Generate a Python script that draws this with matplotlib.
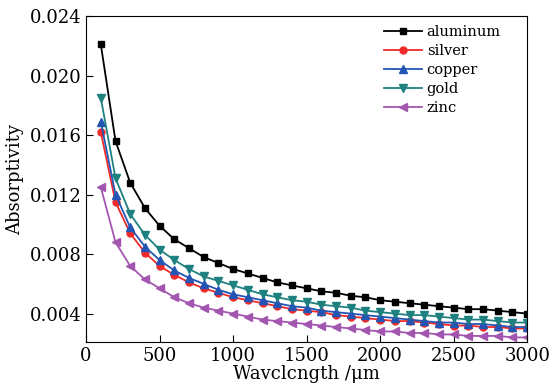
import numpy as np
import matplotlib.pyplot as plt

# Wavelength grid (um)
wavelength = np.arange(100, 3001, 100)

aluminum = [0.0221, 0.0156, 0.0128, 0.0111, 0.0099, 0.0090, 0.0084, 0.0078, 0.0074, 0.0070,
            0.0067, 0.0064, 0.0061, 0.0059, 0.0057, 0.0055, 0.0054, 0.0052, 0.0051, 0.0049,
            0.0048, 0.0047, 0.0046, 0.0045, 0.0044, 0.0043, 0.0043, 0.0042, 0.0041, 0.0040]
silver = [0.0162, 0.0115, 0.0094, 0.0081, 0.0072, 0.0066, 0.0061, 0.0057, 0.0054, 0.0051,
          0.0049, 0.0047, 0.0045, 0.0043, 0.0042, 0.0041, 0.0039, 0.0038, 0.0037, 0.0036,
          0.0035, 0.0035, 0.0034, 0.0033, 0.0032, 0.0032, 0.0031, 0.0031, 0.0030, 0.0030]
copper = [0.0169, 0.0120, 0.0098, 0.0085, 0.0076, 0.0069, 0.0064, 0.0060, 0.0056, 0.0053,
          0.0051, 0.0049, 0.0047, 0.0045, 0.0044, 0.0042, 0.0041, 0.0040, 0.0039, 0.0038,
          0.0037, 0.0036, 0.0035, 0.0034, 0.0034, 0.0033, 0.0033, 0.0032, 0.0031, 0.0031]
gold = [0.0185, 0.0131, 0.0107, 0.0093, 0.0083, 0.0076, 0.0070, 0.0065, 0.0062, 0.0059,
        0.0056, 0.0053, 0.0051, 0.0049, 0.0048, 0.0046, 0.0045, 0.0044, 0.0042, 0.0041,
        0.0040, 0.0039, 0.0039, 0.0038, 0.0037, 0.0036, 0.0036, 0.0035, 0.0034, 0.0034]
zinc = [0.0125, 0.0088, 0.0072, 0.0063, 0.0057, 0.0051, 0.0047, 0.0044, 0.0042, 0.0040,
        0.0038, 0.0036, 0.0035, 0.0034, 0.0033, 0.0032, 0.0031, 0.0030, 0.0029, 0.0028,
        0.0028, 0.0027, 0.0027, 0.0026, 0.0026, 0.0025, 0.0025, 0.0025, 0.0024, 0.0024]

xticks = [0, 500, 1000, 1500, 2000, 2500, 3000]
yticks = [0.004, 0.008, 0.012, 0.016, 0.020, 0.024]

plt.rcParams['font.family'] = 'DejaVu Serif'

fig = plt.figure(figsize=(5.52, 3.85), dpi=100)
ax = fig.add_axes([0.156, 0.112, 0.799, 0.846])

ax.plot(wavelength, aluminum, color='black', marker='s', ms=4.5, lw=1.3, label='aluminum')
ax.plot(wavelength, silver, color='#ee2a2a', marker='o', ms=5, lw=1.3, label='silver')
ax.plot(wavelength, copper, color='#2356b4', marker='^', ms=5.5, lw=1.3, label='copper')
ax.plot(wavelength, gold, color='#1f8080', marker='v', ms=5.5, lw=1.3, label='gold')
ax.plot(wavelength, zinc, color='#a356b0', marker='<', ms=5.5, lw=1.3, label='zinc')

ax.set_xlim(0, 3000)
ax.set_ylim(0.0021, 0.024)
ax.set_xticks(xticks)
ax.set_yticks(yticks)
ax.set_yticklabels(['%.3f' % v for v in yticks])
ax.tick_params(direction='in', length=5, labelsize=13)
ax.set_xlabel('Wavclcngth /μm', fontsize=13, labelpad=0)
ax.set_ylabel('Absorptivity', fontsize=13)

ax.legend(loc='upper right', frameon=False, fontsize=10.5, handlelength=2.6,
          labelspacing=0.35, handletextpad=0.3, borderaxespad=0.2,
          bbox_to_anchor=(0.96, 1.0))

fig.savefig('out.png', dpi=100)
